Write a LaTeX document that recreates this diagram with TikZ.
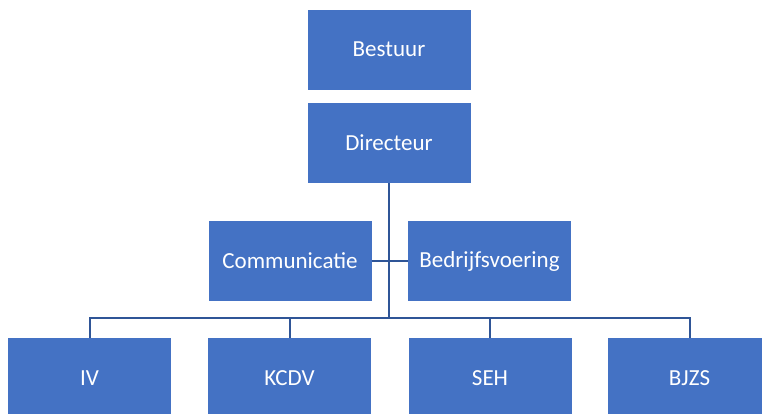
\documentclass[tikz,border=0pt]{standalone}
\usepackage{fontspec}
\setmainfont{Carlito}
\definecolor{boxblue}{HTML}{4472C4}
\definecolor{lineblue}{HTML}{2F5597}
\begin{document}
\begin{tikzpicture}[x=1pt,y=-1pt,
  orgbox/.style={fill=boxblue,draw=none,minimum width=163pt,minimum height=80pt,
    inner sep=0pt,text=white,font=\fontsize{23}{26}\selectfont},
  link/.style={draw=lineblue,line width=2pt}]
\clip (0,0) rectangle (762,413);
\useasboundingbox (0,0) rectangle (762,413);
\node[orgbox] (bestuur) at (389,49.5) {Bestuur};
\node[orgbox] (dir) at (389,143) {Directeur};
\node[orgbox] (comm) at (290,261) {Communicatie};
\node[orgbox] (bedr) at (489.5,261) {Bedrijfsvoering};
\node[orgbox] (iv) at (89.5,378) {IV};
\node[orgbox] (kcdv) at (289.5,378) {KCDV};
\node[orgbox] (seh) at (490,378) {SEH};
\node[orgbox] (bjzs) at (689.5,378) {BJZS};
\coordinate (bus) at (389,318);
\draw[link] (dir.south) -- (bus);
\draw[link] (comm.east) -- (bedr.west);
\draw[link] (iv.north) -- (iv.north |- bus) -- (bjzs.north |- bus) -- (bjzs.north);
\draw[link] (kcdv.north) -- (kcdv.north |- bus);
\draw[link] (seh.north) -- (seh.north |- bus);
\end{tikzpicture}
\end{document}
